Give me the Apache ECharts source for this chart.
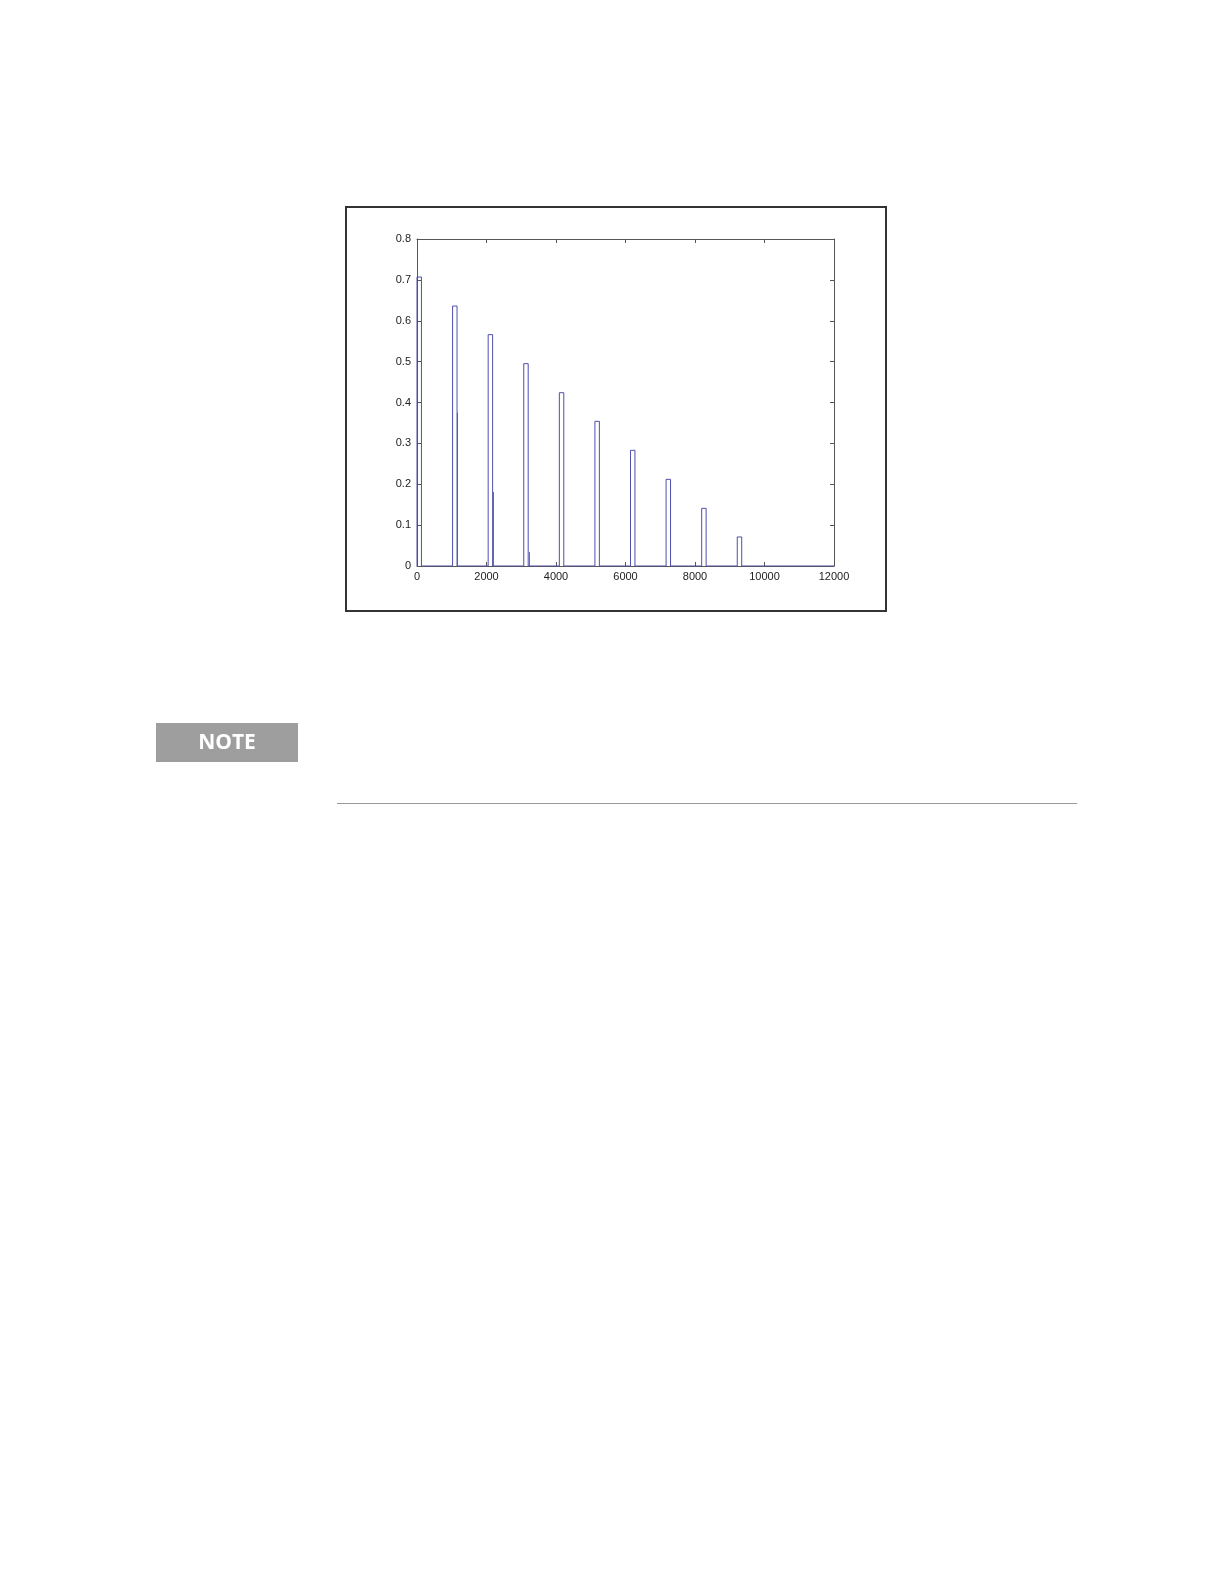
<!DOCTYPE html>
<html>
<head>
<meta charset="utf-8">
<script src="https://cdn.jsdelivr.net/npm/echarts@6/dist/echarts.min.js"></script>
<style>
html,body{margin:0;padding:0;background:#fff;}
#c{width:1224px;height:1584px;}
</style>
</head>
<body>
<div id="c"></div>
<script>
// Bar (bin) left edges, bin width and heights
var binStarts = [0, 1024, 2048, 3072, 4096, 5120, 6144, 7168, 8192, 9216];
var binWidth = 128;
var binHeights = [0.707, 0.636, 0.566, 0.495, 0.424, 0.354, 0.283, 0.212, 0.141, 0.071];
// Small stray vertical strokes next to some bars: [x, height]
var strayX = [1150, 2196, 3232];
var strayH = [0.375, 0.181, 0.034];
var xTicks = [0, 2000, 4000, 6000, 8000, 10000, 12000];
var yTicks = [0, 0.1, 0.2, 0.3, 0.4, 0.5, 0.6, 0.7, 0.8];

// Build stair outline from the arrays
var outline = [[0, 0]];
for (var i = 0; i < binStarts.length; i++) {
  var x0 = binStarts[i], x1 = binStarts[i] + binWidth, h = binHeights[i];
  outline.push([x0, 0], [x0, h], [x1, h], [x1, 0]);
}
outline.push([12000, 0]);
var strays = strayX.map(function (x, i) { return { coords: [[x, 0], [x, strayH[i]]] }; });

var chart = echarts.init(document.getElementById('c'), null, { renderer: 'canvas' });
var lblFont = { fontFamily: 'Liberation Sans, Arial, sans-serif', fontSize: 11, color: '#222' };
var axLine = { show: true, onZero: false, lineStyle: { color: '#555', width: 1 } };
var tick = { show: true, inside: true, length: 4, lineStyle: { color: '#555', width: 1 } };

chart.setOption({
  animation: false,
  backgroundColor: '#fff',
  grid: { left: 417, top: 239, width: 417, height: 327, containLabel: false },
  xAxis: [{
    type: 'value', min: 0, max: 12000, interval: 2000, position: 'bottom',
    axisLine: axLine, axisTick: tick, splitLine: { show: false },
    axisLabel: Object.assign({ margin: 5, formatter: function (v) { return xTicks.indexOf(v) >= 0 ? String(v) : ''; } }, lblFont)
  }, {
    type: 'value', min: 0, max: 12000, interval: 2000, position: 'top',
    axisLine: axLine, axisTick: tick, splitLine: { show: false }, axisLabel: { show: false }
  }],
  yAxis: [{
    type: 'value', min: 0, max: 0.8, interval: 0.1, position: 'left',
    axisLine: axLine, axisTick: tick, splitLine: { show: false },
    axisLabel: Object.assign({ margin: 6, formatter: function (v) {
      var r = Math.round(v * 10) / 10; return yTicks.indexOf(r) >= 0 ? String(r) : ''; } }, lblFont)
  }, {
    type: 'value', min: 0, max: 0.8, interval: 0.1, position: 'right',
    axisLine: axLine, axisTick: tick, splitLine: { show: false }, axisLabel: { show: false }
  }],
  series: [{
    type: 'line', data: outline, xAxisIndex: 0, yAxisIndex: 0,
    showSymbol: false, symbol: 'none', lineStyle: { color: '#4f4fae', width: 1 }, z: 3
  }, {
    type: 'lines', coordinateSystem: 'cartesian2d', xAxisIndex: 0, yAxisIndex: 0,
    data: strays, lineStyle: { color: '#6a6abf', width: 1, opacity: 1 }, z: 3
  }],
  graphic: [
    { type: 'rect', shape: { x: 346, y: 207, width: 540, height: 404 },
      style: { fill: 'none', stroke: '#333', lineWidth: 2 }, z: 10 },
    { type: 'rect', shape: { x: 156, y: 723, width: 142, height: 39 },
      style: { fill: '#9e9e9e' } },
    { type: 'text', x: 227, y: 743, style: { text: 'NOTE', fill: '#fff',
      font: 'bold 21px "Open Sans", "Noto Sans", sans-serif', textAlign: 'center', textVerticalAlign: 'middle' } },
    { type: 'line', shape: { x1: 337, y1: 803.5, x2: 1077, y2: 803.5 },
      style: { stroke: '#999', lineWidth: 1 } }
  ]
});
</script>
</body>
</html>
